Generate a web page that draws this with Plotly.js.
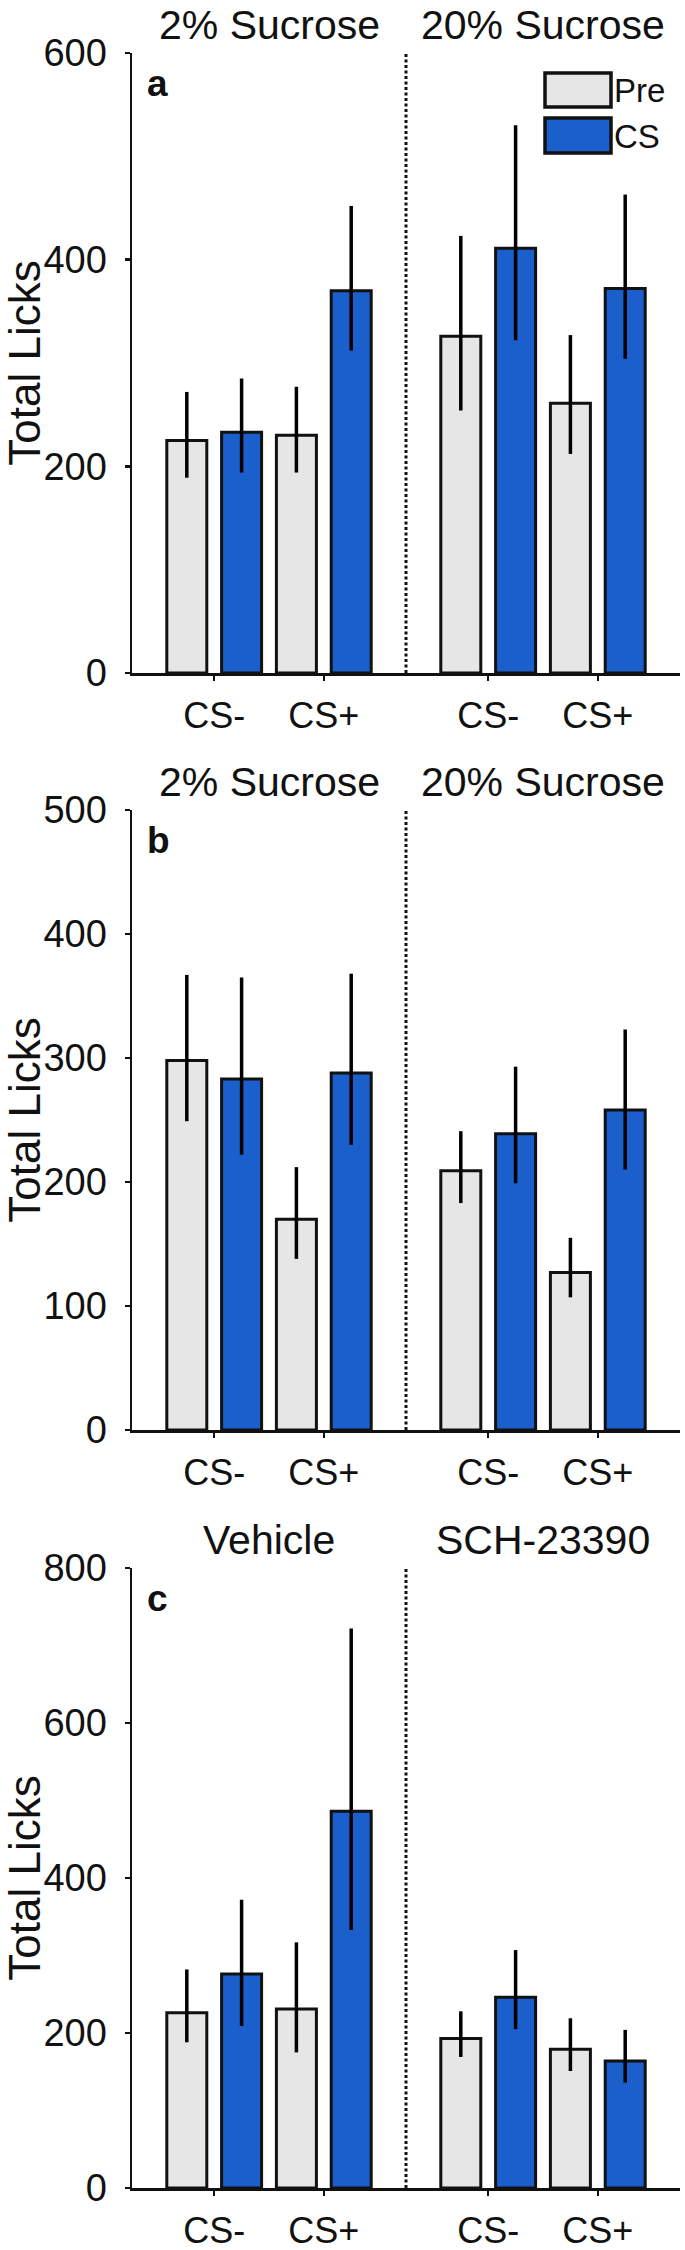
<!DOCTYPE html>
<html>
<head>
<meta charset="utf-8">
<script src="https://cdn.plot.ly/plotly-3.0.1.min.js"></script>
<style>html,body{margin:0;padding:0;background:#fff}#chart{width:685px;height:2250px}</style>
</head>
<body>
<div id="chart"></div>
<script>
// ---------- data ----------
const categories = ["CS-", "CS+", "CS-", "CS+"];
const catPositions = [1, 2, 3.5, 4.5];
const seriesNames = ["Pre", "CS"];

// Panel a : 2% Sucrose | 20% Sucrose
const aPre      = [225, 230, 326, 261];
const aPreHi    = [272, 277, 423, 327];
const aPreLo    = [189, 194, 254, 212];
const aCS       = [233, 370, 411, 372];
const aCSHi     = [285, 452, 530, 463];
const aCSLo     = [194, 312, 322, 304];
const aGroups   = ["2% Sucrose", "20% Sucrose"];

// Panel b : 2% Sucrose | 20% Sucrose
const bPre      = [298, 170, 209, 127];
const bPreHi    = [367, 212, 241, 155];
const bPreLo    = [249, 138, 183, 107];
const bCS       = [283, 288, 239, 258];
const bCSHi     = [365, 368, 293, 323];
const bCSLo     = [222, 230, 199, 210];
const bGroups   = ["2% Sucrose", "20% Sucrose"];

// Panel c : Vehicle | SCH-23390
const cPre      = [226, 231, 193, 179];
const cPreHi    = [282, 317, 228, 219];
const cPreLo    = [188, 175, 169, 151];
const cCS       = [276, 486, 246, 164];
const cCSHi     = [372, 722, 307, 204];
const cCSLo     = [209, 333, 205, 136];
const cGroups   = ["Vehicle", "SCH-23390"];

const yTickVals = {a: [0, 200, 400, 600], b: [0, 100, 200, 300, 400, 500], c: [0, 200, 400, 600, 800]};
const panelLetters = ["a", "b", "c"];
const yTitle = "Total Licks";

// ---------- styling / layout ----------
const W = 685, H = 2250;
const FONT = "Liberation Sans, Arial, sans-serif";
const INK = "#111111";
const GRAY = "#e6e6e6";
const BLUE = "#1a5fcc";
const groupCenters = [1.5, 4.0];
const dividerX = 2.75;
const py = p => 1 - p / H;
const px = p => p / W;

const panels = [
  {pre: aPre, preHi: aPreHi, preLo: aPreLo, cs: aCS, csHi: aCSHi, csLo: aCSLo, groups: aGroups, ticks: yTickVals.a, top: 53, bottom: 673},
  {pre: bPre, preHi: bPreHi, preLo: bPreLo, cs: bCS, csHi: bCSHi, csLo: bCSLo, groups: bGroups, ticks: yTickVals.b, top: 810, bottom: 1430},
  {pre: cPre, preHi: cPreHi, preLo: cPreLo, cs: cCS, csHi: cCSHi, csLo: cCSLo, groups: cGroups, ticks: yTickVals.c, top: 1568, bottom: 2188}
];

const traces = [];
const layout = {
  width: W, height: H,
  margin: {l: 0, r: 0, t: 0, b: 0},
  paper_bgcolor: "#fff", plot_bgcolor: "#fff",
  font: {family: FONT, color: INK},
  barmode: "group", bargap: 0, bargroupgap: 0.27,
  showlegend: false,
  annotations: [], shapes: []
};

panels.forEach((p, i) => {
  const sfx = i === 0 ? "" : String(i + 1);
  const xa = "x" + sfx, ya = "y" + sfx;
  const mk = (name, vals, hi, lo, color) => ({
    type: "bar", name: name, x: catPositions, y: vals,
    xaxis: xa, yaxis: ya,
    marker: {color: color, line: {color: INK, width: 3}},
    error_y: {type: "data", symmetric: false,
      array: vals.map((v, k) => hi[k] - v),
      arrayminus: vals.map((v, k) => v - lo[k]),
      width: 0, thickness: 3.5, color: "#000"},
    hoverinfo: "y"
  });
  traces.push(mk(seriesNames[0], p.pre, p.preHi, p.preLo, GRAY));
  traces.push(mk(seriesNames[1], p.cs, p.csHi, p.csLo, BLUE));

  const ymax = p.ticks[p.ticks.length - 1];
  layout["xaxis" + sfx] = {
    domain: [px(132), px(680)], range: [0.25, 5.25], anchor: ya,
    tickmode: "array", tickvals: catPositions, ticktext: categories,
    ticks: "outside", ticklen: 5, tickwidth: 2.5, tickcolor: INK,
    showline: true, linewidth: 2.5, linecolor: INK,
    showgrid: false, zeroline: false, fixedrange: true,
    tickfont: {size: 36, family: FONT, color: INK}, ticklabelstandoff: 4
  };
  layout["yaxis" + sfx] = {
    domain: [py(p.bottom), py(p.top)], range: [0, ymax], anchor: xa,
    tickmode: "array", tickvals: p.ticks,
    ticks: "outside", ticklen: 5, tickwidth: 2.5, tickcolor: INK,
    showline: true, linewidth: 2.5, linecolor: INK,
    showgrid: false, zeroline: false, fixedrange: true,
    tickfont: {size: 38, family: FONT, color: INK}, ticklabelstandoff: 10,
    title: {text: yTitle, font: {size: 44, family: FONT, color: INK}, standoff: 6}
  };
  // divider
  layout.shapes.push({type: "line", xref: xa, yref: ya + " domain", x0: dividerX, x1: dividerX, y0: 0, y1: 1,
    line: {color: INK, width: 3, dash: "3px,2.5px"}});
  // group headers
  p.groups.forEach((g, k) => layout.annotations.push({
    text: g, xref: xa, yref: ya + " domain", x: groupCenters[k], y: 1, yshift: 28,
    xanchor: "center", yanchor: "middle", showarrow: false,
    font: {size: 41, family: FONT, color: INK}
  }));
  // panel letter
  layout.annotations.push({
    text: "<b>" + panelLetters[i] + "</b>", xref: xa + " domain", yref: ya + " domain",
    x: 0, y: 1, xshift: 13, yshift: -8, xanchor: "left", yanchor: "top", showarrow: false,
    font: {size: 37, family: FONT, color: INK}
  });
});

// legend (panel a)
[[73, 107, GRAY, seriesNames[0]], [118, 153, BLUE, seriesNames[1]]].forEach(([t, b, c, label]) => {
  layout.shapes.push({type: "rect", xref: "paper", yref: "paper",
    x0: px(545), x1: px(611), y0: py(b), y1: py(t),
    fillcolor: c, line: {color: INK, width: 3.5}});
  layout.annotations.push({text: label, xref: "paper", yref: "paper",
    x: px(612), y: py((t + b) / 2 + 1), xanchor: "left", yanchor: "middle", showarrow: false,
    font: {size: 33, family: FONT, color: INK}});
});

Plotly.newPlot("chart", traces, layout, {displayModeBar: false, staticPlot: true});
</script>
</body>
</html>
